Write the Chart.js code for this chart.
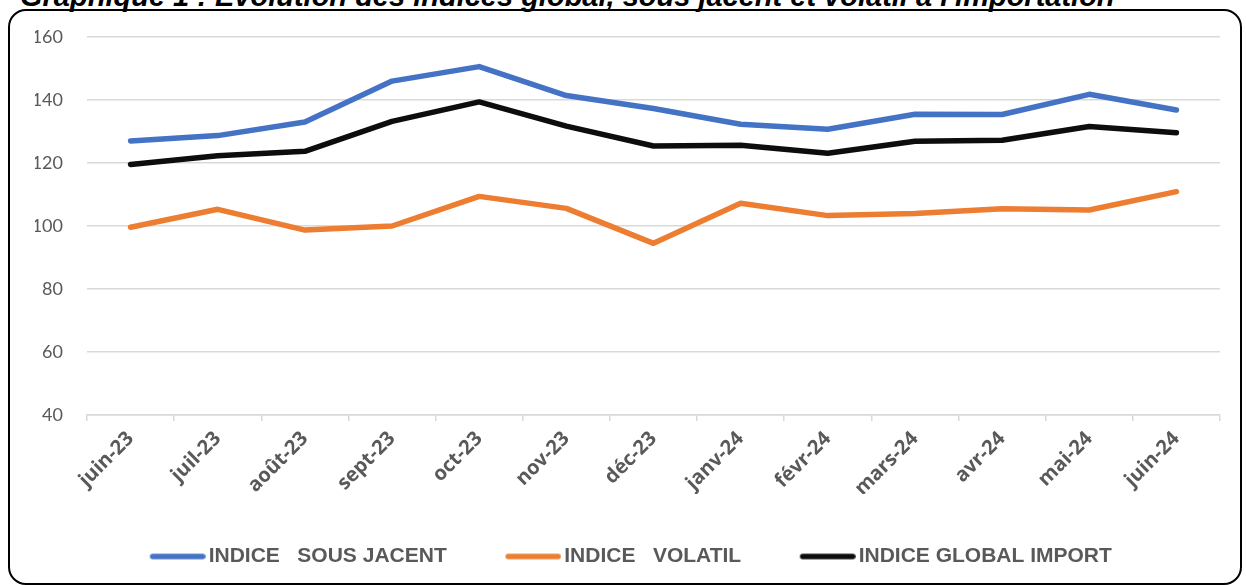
<!DOCTYPE html>
<html>
<head>
<meta charset="utf-8">
<script src="https://cdn.jsdelivr.net/npm/chart.js@4"></script>
<style>
  html, body { margin: 0; padding: 0; background: #fff; }
  #wrap { position: relative; width: 1246px; height: 585px; overflow: hidden; }
  #titre {
    position: absolute; left: 20px; top: -18px; white-space: nowrap;
    font: italic bold 29px "Liberation Sans", Arial, sans-serif; line-height: 29px; color: #000;
  }
  #cadre {
    position: absolute; left: 8px; top: 9px; width: 1230px; height: 572px;
    border: 2px solid #000; border-radius: 18px; pointer-events: none;
  }
  #graph { position: absolute; left: 0; top: 0; }
</style>
</head>
<body>
<div id="wrap">
  <div id="titre">Graphique 1 : Evolution des indices global, sous jacent et volatil à l'importation</div>
  <div id="cadre"></div>
  <canvas id="graph" width="1246" height="585"></canvas>
</div>
<script>
// mois (juin 2023 -> juin 2024)
const mois = ['juin-23', 'juil-23', 'août-23', 'sept-23', 'oct-23', 'nov-23', 'déc-23',
              'janv-24', 'févr-24', 'mars-24', 'avr-24', 'mai-24', 'juin-24'];

// valeurs
const sousJacent = [127.0, 128.7, 133.0, 146.0, 150.6, 141.4, 137.3, 132.3, 130.7, 135.5, 135.4, 141.8, 136.8];
const volatil    = [99.6, 105.3, 98.7, 100.0, 109.4, 105.6, 94.5, 107.2, 103.3, 104.0, 105.5, 105.1, 110.9];
const globalImp  = [119.5, 122.3, 123.7, 133.2, 139.4, 131.7, 125.4, 125.6, 123.1, 126.9, 127.2, 131.6, 129.6];

const yTicks = [40, 60, 80, 100, 120, 140, 160];

const canvas = document.querySelector('#graph');

// petit trait de légende, collé au texte comme dans Excel
function traitLegende(couleur) {
    const c = document.createElement('canvas');
    c.width = 70;
    c.height = 10;
    const ctx = c.getContext('2d');
    ctx.strokeStyle = couleur;
    ctx.lineWidth = 5.5;
    ctx.lineCap = 'round';
    ctx.beginPath();
    ctx.moveTo(17, 5);
    ctx.lineTo(67, 5);
    ctx.stroke();
    return c;
}

const data = {
    labels: mois,
    datasets: [
        { label: 'INDICE   SOUS JACENT', data: sousJacent, borderColor: '#4472c4', backgroundColor: '#4472c4' },
        { label: 'INDICE   VOLATIL', data: volatil, borderColor: '#ed7d31', backgroundColor: '#ed7d31' },
        { label: 'INDICE GLOBAL IMPORT', data: globalImp, borderColor: '#0d0d0d', backgroundColor: '#0d0d0d' }
    ].map(d => Object.assign(d, {
        borderWidth: 5.5,
        borderCapStyle: 'round',
        borderJoinStyle: 'round',
        pointRadius: 0,
        pointStyle: traitLegende(d.borderColor),
        tension: 0,
        fill: false
    }))
};

const config = {
    type: 'line',
    data: data,
    options: {
        responsive: false,
        animation: false,
        layout: { padding: { left: 35, right: 26, top: 37, bottom: 8 } },
        plugins: {
            title: { display: false },
            tooltip: { enabled: false },
            legend: {
                position: 'bottom',
                labels: {
                    usePointStyle: true,
                    pointStyleWidth: 55,
                    boxHeight: 21,
                    padding: 52,
                    color: '#595959',
                    font: { family: '"Liberation Sans", Arial, sans-serif', size: 21, weight: 'bold' }
                }
            }
        },
        scales: {
            x: {
                offset: true,
                grid: { display: true, offset: true, drawOnChartArea: false, drawTicks: true, tickLength: 6, color: '#d9d9d9', lineWidth: 1.5 },
                border: { display: true, color: '#d9d9d9', width: 1.5 },
                ticks: {
                    minRotation: 45, maxRotation: 45, padding: 6, autoSkip: false,
                    color: '#595959',
                    font: { family: '"Open Sans", sans-serif', size: 20, weight: '700' }
                },
                afterFit: s => { s.height = 79; }
            },
            y: {
                min: 40, max: 160,
                afterBuildTicks: s => { s.ticks = yTicks.map(v => ({ value: v })); },
                grid: { color: '#d9d9d9', lineWidth: 1.5, drawTicks: false },
                border: { display: false },
                ticks: {
                    padding: 24,
                    color: '#595959',
                    font: { family: 'Lato, "Open Sans", sans-serif', size: 18 }
                },
                afterFit: s => { s.width = 52; }
            }
        }
    }
};

if (canvas) {
    new Chart(canvas, config);
}
</script>
</body>
</html>
